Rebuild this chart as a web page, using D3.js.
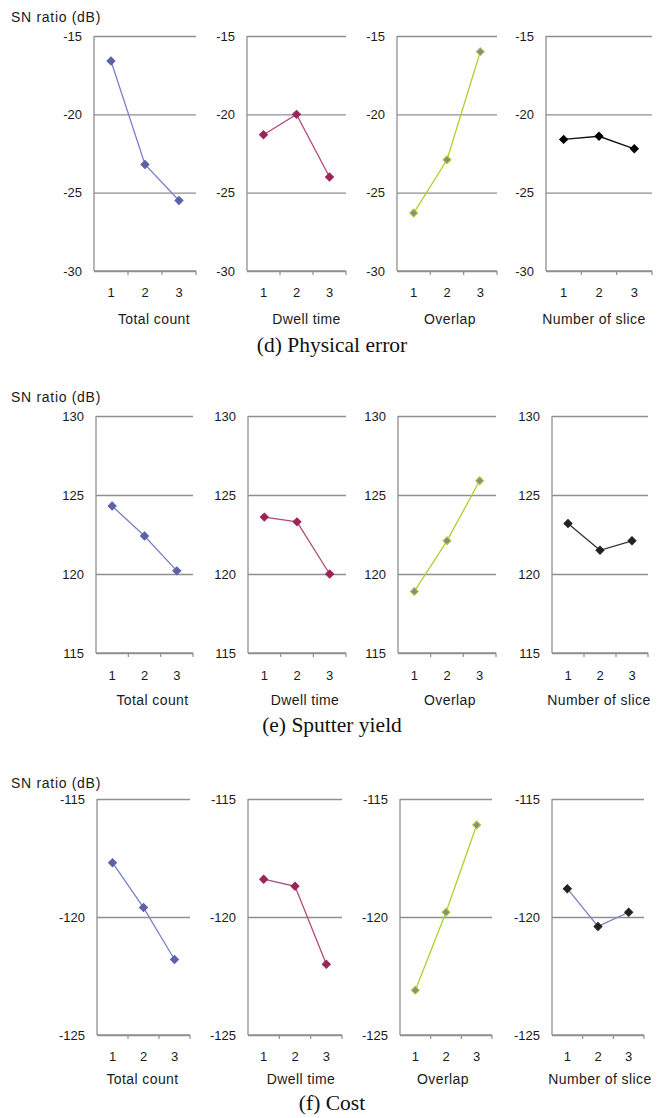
<!DOCTYPE html>
<html><head><meta charset="utf-8">
<script src="https://cdn.jsdelivr.net/npm/d3@7/dist/d3.min.js"></script>
<style>
body{margin:0;background:#fff;}
svg{display:block;}
</style></head>
<body>
<svg id="chart" width="658" height="1118"></svg>
<script>
// ---- data ----
const factors = ["Total count", "Dwell time", "Overlap", "Number of slice"];
const levels = ["1", "2", "3"];
const captions = ["(d) Physical error", "(e) Sputter yield", "(f) Cost"];
const yTicksD = [-30, -25, -20, -15];
const yTicksE = [115, 120, 125, 130];
const yTicksF = [-125, -120, -115];
// physical error SN ratios per factor, levels 1..3
const physTotal = [-16.6, -23.2, -25.5];
const physDwell = [-21.3, -20.0, -24.0];
const physOverlap = [-26.3, -22.9, -16.0];
const physSlice = [-21.6, -21.4, -22.2];
// sputter yield
const sputTotal = [124.3, 122.4, 120.2];
const sputDwell = [123.6, 123.3, 120.0];
const sputOverlap = [118.9, 122.1, 125.9];
const sputSlice = [123.2, 121.5, 122.1];
// cost
const costTotal = [-117.7, -119.6, -121.8];
const costDwell = [-118.4, -118.7, -122.0];
const costOverlap = [-123.1, -119.8, -116.1];
const costSlice = [-118.8, -120.4, -119.8];

const rowsData = [
  {caption: captions[0], ticks: yTicksD, series: [physTotal, physDwell, physOverlap, physSlice]},
  {caption: captions[1], ticks: yTicksE, series: [sputTotal, sputDwell, sputOverlap, sputSlice]},
  {caption: captions[2], ticks: yTicksF, series: [costTotal, costDwell, costOverlap, costSlice]}
];

// ---- layout / style ----
const rowLayout = [
  {top: 36, bottom: 271, lefts: [94, 247, 397, 546], rights: [196, 346, 497, 652], snY: 22,
   xlY: 26, titleY: 53, capY: 352, titleShift: [9, 10, 3, -5]},
  {top: 416, bottom: 653, lefts: [96, 248, 398, 552], rights: [193, 346, 496, 648], snY: 402,
   xlY: 27, titleY: 52, capY: 732, titleShift: [8, 8, 3, -1]},
  {top: 799, bottom: 1035, lefts: [97, 248, 400, 552], rights: [190, 342, 492, 644], snY: 788,
   xlY: 26, titleY: 49, capY: 1110, titleShift: [-1, 6, -3, 2]}
];
const styles = [
  [{line: "#7b80c4", fill: "#5d62a8", stroke: "#5d62a8"},
   {line: "#b14a7c", fill: "#9b2459", stroke: "#9b2459"},
   {line: "#a8d42a", fill: "#8a8a86", stroke: "#a8d42a"},
   {line: "#111", fill: "#000", stroke: "#000"}],
  [{line: "#7b80c4", fill: "#5d62a8", stroke: "#5d62a8"},
   {line: "#b14a7c", fill: "#9b2459", stroke: "#9b2459"},
   {line: "#a8d42a", fill: "#8a8a86", stroke: "#a8d42a"},
   {line: "#333", fill: "#222", stroke: "#222"}],
  [{line: "#7b80c4", fill: "#5d62a8", stroke: "#5d62a8"},
   {line: "#b14a7c", fill: "#9b2459", stroke: "#9b2459"},
   {line: "#a8d42a", fill: "#8a8a86", stroke: "#a8d42a"},
   {line: "#7b80c4", fill: "#222", stroke: "#222"}]
];
const gridColor = "#8f8f8f";
const textColor = "#1a1a1a";
const sans = "'Liberation Sans', Arial, sans-serif";
const serif = "'Liberation Serif', 'Times New Roman', serif";

const svg = d3.select("#chart");

rowsData.forEach((row, ri) => {
  const L = rowLayout[ri];
  const g = svg.append("g");
  g.append("text").attr("x", 11).attr("y", L.snY)
    .attr("font-family", sans).attr("font-size", 14).attr("letter-spacing", 0.7).attr("fill", textColor)
    .text("SN ratio (dB)");

  const ext = d3.extent(row.ticks);
  row.series.forEach((vals, fi) => {
    const x0 = L.lefts[fi], x1 = L.rights[fi];
    const x = d3.scaleBand().domain(levels).range([x0, x1]).padding(0);
    const y = d3.scaleLinear().domain(ext).range([L.bottom, L.top]);
    const p = g.append("g");

    // gridlines + y labels
    const yAxis = d3.axisLeft(y).tickValues(row.ticks).tickSize(-(x1 - x0)).tickPadding(12);
    const ya = p.append("g").attr("transform", `translate(${x0},0)`).call(yAxis);
    ya.select(".domain").remove();
    ya.selectAll(".tick line").attr("stroke", gridColor).attr("stroke-width", 1.3);
    ya.selectAll(".tick text").attr("font-family", sans).attr("font-size", 13).attr("fill", textColor)
      .text(d => String(d));

    // left axis line
    p.append("line").attr("x1", x0).attr("x2", x0).attr("y1", L.top).attr("y2", L.bottom)
      .attr("stroke", gridColor).attr("stroke-width", 1.3);
    // bottom axis line
    p.append("line").attr("x1", x0).attr("x2", x1).attr("y1", L.bottom).attr("y2", L.bottom)
      .attr("stroke", gridColor).attr("stroke-width", 1.3);
    // category boundary ticks
    const edges = levels.map(l => x(l)).concat([x1]).slice(1);
    p.selectAll(".edge").data(edges).enter().append("line")
      .attr("x1", d => d).attr("x2", d => d).attr("y1", L.bottom).attr("y2", L.bottom + 4)
      .attr("stroke", gridColor).attr("stroke-width", 1.2);
    // x tick labels
    p.selectAll(".xl").data(levels).enter().append("text")
      .attr("x", d => x(d) + x.bandwidth() / 2).attr("y", L.bottom + L.xlY)
      .attr("text-anchor", "middle").attr("font-family", sans).attr("font-size", 13).attr("fill", textColor)
      .text(d => d);
    // x title
    p.append("text").attr("x", (x0 + x1) / 2 + L.titleShift[fi]).attr("y", L.bottom + L.titleY)
      .attr("text-anchor", "middle").attr("font-family", sans).attr("font-size", 14)
      .attr("letter-spacing", 0.4).attr("fill", textColor)
      .text(factors[fi]);

    const st = styles[ri][fi];
    const pts = vals.map((v, i) => [x(levels[i]) + x.bandwidth() / 2, y(v)]);
    p.append("path").attr("d", d3.line()(pts)).attr("fill", "none")
      .attr("stroke", st.line).attr("stroke-width", 1.3);
    const sym = d3.symbol().type(d3.symbolSquare).size(32);
    p.selectAll(".m").data(pts).enter().append("path")
      .attr("d", sym).attr("transform", d => `translate(${d[0]},${d[1]}) rotate(45)`)
      .attr("fill", st.fill).attr("stroke", st.stroke).attr("stroke-width", 1);
  });

  g.append("text").attr("x", 332).attr("y", L.capY)
    .attr("text-anchor", "middle").attr("font-family", serif).attr("font-size", 21.5).attr("fill", "#111")
    .text(row.caption);
});
</script>
</body></html>
